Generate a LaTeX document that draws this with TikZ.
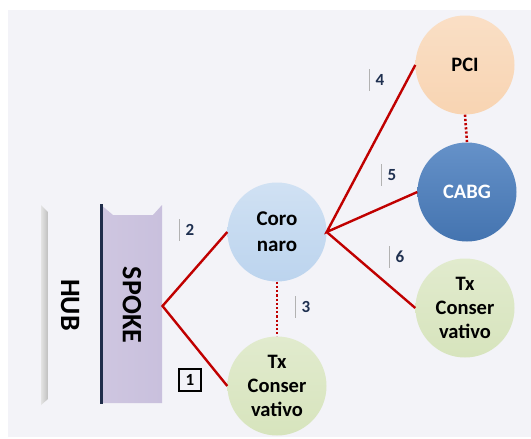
\documentclass[tikz,border=0pt]{standalone}
\usepackage{fontspec}
\setmainfont{Carlito}
\definecolor{panel}{HTML}{F3F3F8}
\definecolor{linkred}{HTML}{C00000}
\definecolor{coroblue}{HTML}{BCD4EE}
\definecolor{txgreen}{HTML}{D7E4BD}
\definecolor{pcipeach}{HTML}{F8D4B2}
\definecolor{cabgblue}{HTML}{4A7EBF}
\definecolor{spokefill}{HTML}{C9C0DD}
\definecolor{spokeedge}{HTML}{1F2D4A}
\definecolor{tagnavy}{HTML}{1F3050}
\begin{document}
\begin{tikzpicture}[x=1pt,y=-1pt,
  ball/.style={circle, minimum size=99pt, inner sep=0pt, align=center,
    font=\bfseries\fontsize{20.5}{24}\selectfont},
  link/.style={draw=linkred, line width=2.4pt},
  dotlink/.style={draw=linkred, line width=2.6pt, dash pattern=on 2.2pt off 2pt},
  tagnum/.style={inner sep=0pt, minimum height=21pt, text=tagnavy,
    font=\bfseries\fontsize{17}{17}\selectfont},
  tagbar/.style={draw=gray!60, line width=0.9pt},
  sidelabel/.style={font=\bfseries\fontsize{28}{28}\selectfont, rotate=-90, inner sep=0pt}]

% canvas and backdrop panel
\useasboundingbox (0,0) rectangle (531,439);
\fill[white] (0,0) rectangle (531,439);
\fill[panel] (8,10) rectangle (531,437);

% HUB bar (bevelled grey slab)
\shade[left color=gray!22, right color=gray!50] (41,205) -- (48,212) -- (48,399) -- (41,405) -- cycle;
\node[sidelabel] (hub) at (70,305) {HUB};

% SPOKE panel with notched top and dark left edge
\shade[left color=spokefill!90!white, right color=spokefill] (100,204) -- (113,215) -- (153,215) -- (162,205) -- (162,403) -- (100,403) -- cycle;
\fill[spokeedge] (100,204) rectangle (102.5,404);
\node[sidelabel] (spoke) at (132,305) {SPOKE};
\coordinate (spokeR) at (162.5,306);

% treatment circles
\node[ball, top color=coroblue!70!white, bottom color=coroblue,
  font=\bfseries\fontsize{21}{26}\selectfont] (coro) at (277,232) {Coro\\naro};
\node[ball, top color=txgreen!75!white, bottom color=txgreen] (txA) at (277,386) {Tx\\Conser\\vativo};
\node[ball, top color=pcipeach!75!white, bottom color=pcipeach] (pci) at (465,65) {PCI};
\node[ball, top color=cabgblue!85!white, bottom color=cabgblue!92!black, text=white] (cabg) at (467,192) {CABG};
\node[ball, top color=txgreen!75!white, bottom color=txgreen] (txB) at (465,308) {Tx\\Conser\\vativo};

% solid branches
\draw[link] (coro.west) -- (spokeR) -- (txA.west);
\draw[link] (pci.west) -- (coro.east) -- (cabg.west);
\draw[link] (coro.east) -- (txB.west);

% dotted alternatives
\draw[dotlink] (coro.south) -- (txA.north);
\draw[dotlink] (pci.south) -- (cabg.north);

% step markers
\node[tagnum] (t2) at (190,230) {2};
\node[tagnum] (t3) at (306,307) {3};
\node[tagnum] (t4) at (380,80) {4};
\node[tagnum] (t5) at (392,175) {5};
\node[tagnum] (t6) at (400,257) {6};
\foreach \t in {t2,t3,t4,t5,t6}
  \draw[tagbar] ([xshift=-6pt]\t.north west) -- ([xshift=-6pt]\t.south west);
\node[draw=black, line width=1.2pt, minimum size=22pt, inner sep=0pt,
  font=\bfseries\fontsize{17}{17}\selectfont] (t1) at (190,380) {1};

\end{tikzpicture}
\end{document}
